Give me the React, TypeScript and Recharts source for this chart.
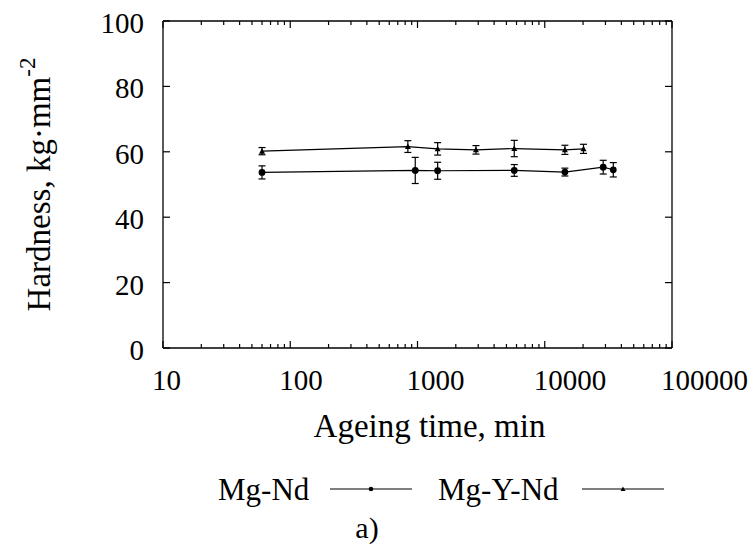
import React from 'react';
import { ComposedChart, Line, XAxis, YAxis, ErrorBar, Legend } from 'recharts';

const ndTime = [60, 960, 1440, 5760, 14400, 28800, 34560];
const ndHardness = [53.7, 54.3, 54.2, 54.3, 53.8, 55.3, 54.5];
const ndError = [2.0, 4.0, 2.6, 1.8, 1.2, 2.1, 2.2];

const yndTime = [60, 840, 1440, 2880, 5760, 14400, 20160];
const yndHardness = [60.2, 61.6, 60.9, 60.6, 61.0, 60.6, 60.9];
const yndError = [1.1, 1.8, 1.9, 1.3, 2.5, 1.4, 1.4];

const xMajorTicks = [10, 100, 1000, 10000, 100000];
const yTicks = [0, 20, 40, 60, 80, 100];
const seriesNames = ['Mg-Nd', 'Mg-Y-Nd'];
const xLabel = 'Ageing time, min';
const yLabel = 'Hardness, kg\u00B7mm';
const yLabelSup = '-2';
const caption = 'a)';

const xAllTicks: number[] = [];
xMajorTicks.forEach((d, i) => {
  if (i === xMajorTicks.length - 1) {
    xAllTicks.push(d);
  } else {
    for (let k = 1; k <= 9; k++) xAllTicks.push(d * k);
  }
});

const ndData = ndTime.map((t, i) => ({ t, h: ndHardness[i], e: ndError[i] }));
const yndData = yndTime.map((t, i) => ({ t, h: yndHardness[i], e: yndError[i] }));

const FONT = "'Liberation Serif', serif";
const INK = '#000';

const CHART_W = 750;
const CHART_H = 547;
const MARGIN = { top: 21, right: 78, bottom: 99, left: 0 };
const Y_AXIS_W = 163;
const X_AXIS_H = 100;
const PLOT_L = MARGIN.left + Y_AXIS_W;
const PLOT_T = MARGIN.top;
const PLOT_W = CHART_W - MARGIN.left - MARGIN.right - Y_AXIS_W;
const PLOT_H = CHART_H - MARGIN.top - MARGIN.bottom - X_AXIS_H;
const X_DOMAIN = [xMajorTicks[0], xMajorTicks[xMajorTicks.length - 1]];
const Y_DOMAIN = [yTicks[0], yTicks[yTicks.length - 1]];

const frameX = (v: number) =>
  PLOT_L + ((Math.log10(v) - Math.log10(X_DOMAIN[0])) / (Math.log10(X_DOMAIN[1]) - Math.log10(X_DOMAIN[0]))) * PLOT_W;
const frameY = (v: number) => PLOT_T + PLOT_H - ((v - Y_DOMAIN[0]) / (Y_DOMAIN[1] - Y_DOMAIN[0])) * PLOT_H;

const BottomTick = (props: any) => {
  const { x, y, payload } = props;
  const major = xMajorTicks.includes(payload.value);
  return (
    <g>
      <line x1={x} x2={x} y1={y} y2={y - (major ? 7 : 4)} stroke={INK} strokeWidth={1.2} />
      {major && (
        <text x={x - 11} y={y + 42} textAnchor="start" fontFamily={FONT} fontSize={29} fill={INK}>
          {payload.value}
        </text>
      )}
    </g>
  );
};

const LeftTick = (props: any) => {
  const { x, y, payload } = props;
  return (
    <g>
      <line x1={x} x2={x + 7} y1={y} y2={y} stroke={INK} strokeWidth={1.2} />
      <text x={x - 19} y={y + 12} textAnchor="end" fontFamily={FONT} fontSize={29} fill={INK}>
        {payload.value}
      </text>
    </g>
  );
};

const YLabelContent = (props: any) => {
  const { viewBox } = props;
  const cx = viewBox.x + 50;
  const cy = viewBox.y + viewBox.height / 2;
  return (
    <text
      x={cx}
      y={cy}
      textAnchor="middle"
      transform={`rotate(-90, ${cx}, ${cy})`}
      fontFamily={FONT}
      fontSize={33}
      fill={INK}
    >
      {yLabel}
      <tspan fontSize={23} dy={-15}>{yLabelSup}</tspan>
    </text>
  );
};

const XLabelContent = (props: any) => {
  const { viewBox } = props;
  return (
    <text
      x={viewBox.x + viewBox.width / 2 + 12}
      y={viewBox.y + 89}
      textAnchor="middle"
      fontFamily={FONT}
      fontSize={33}
      fill={INK}
    >
      {xLabel}
    </text>
  );
};

const Triangle = (props: any) => {
  const { cx, cy } = props;
  if (cx == null || cy == null) return null;
  return <polygon points={`${cx - 3},${cy + 2.5} ${cx + 3},${cy + 2.5} ${cx},${cy - 3}`} fill={INK} />;
};

// Overlay: legend row, caption, and the top/right frame of the plot box
const LegendContent = () => {
  const top = PLOT_T;
  const right = PLOT_L + PLOT_W;
  const bottom = PLOT_T + PLOT_H;
  return (
    <svg width={CHART_W} height={CHART_H} style={{ display: 'block', pointerEvents: 'none' }}>
      <line x1={PLOT_L} x2={right} y1={top} y2={top} stroke={INK} strokeWidth={1.3} />
      <line x1={right} x2={right} y1={top} y2={bottom} stroke={INK} strokeWidth={1.3} />
      {xAllTicks.map((v) => (
        <line
          key={`tt${v}`}
          x1={frameX(v)}
          x2={frameX(v)}
          y1={top}
          y2={top + (xMajorTicks.includes(v) ? 7 : 4)}
          stroke={INK}
          strokeWidth={1.2}
        />
      ))}
      {yTicks.map((v) => (
        <line key={`rt${v}`} x1={right} x2={right - 7} y1={frameY(v)} y2={frameY(v)} stroke={INK} strokeWidth={1.2} />
      ))}
      <g transform="translate(0,460)">
        <text x={218} y={40} fontFamily={FONT} fontSize={31} fill={INK}>{seriesNames[0]}</text>
        <line x1={330} x2={412} y1={29} y2={29} stroke={INK} strokeWidth={1.2} />
        <circle cx={371} cy={29} r={2.3} fill={INK} />
        <text x={438} y={40} fontFamily={FONT} fontSize={31} fill={INK}>{seriesNames[1]}</text>
        <line x1={582} x2={664} y1={29} y2={29} stroke={INK} strokeWidth={1.2} />
        <polygon points="620.5,31 625.5,31 623,26.5" fill={INK} />
        <text x={367} y={78} textAnchor="middle" fontFamily={FONT} fontSize={30} fill={INK}>{caption}</text>
      </g>
    </svg>
  );
};

export default function App() {
  return (
    <div style={{ position: 'absolute', left: 0, top: 0, width: CHART_W, height: CHART_H, background: '#fff' }}>
      <ComposedChart width={CHART_W} height={CHART_H} margin={MARGIN}>
        <XAxis
          xAxisId="b"
          dataKey="t"
          type="number"
          scale="log"
          domain={X_DOMAIN}
          allowDataOverflow
          ticks={xAllTicks}
          interval={0}
          tickSize={0}
          tickMargin={0}
          tick={<BottomTick />}
          axisLine={{ stroke: INK, strokeWidth: 1.3 }}
          tickLine={false}
          height={X_AXIS_H}
          orientation="bottom"
          label={{ content: <XLabelContent /> }}
        />
        <YAxis
          yAxisId="l"
          type="number"
          domain={Y_DOMAIN}
          allowDataOverflow
          ticks={yTicks}
          interval={0}
          tickSize={0}
          tickMargin={0}
          tick={<LeftTick />}
          axisLine={{ stroke: INK, strokeWidth: 1.3 }}
          tickLine={false}
          width={Y_AXIS_W}
          orientation="left"
          label={{ content: <YLabelContent /> }}
        />
        <Line
          xAxisId="b"
          yAxisId="l"
          data={ndData}
          dataKey="h"
          name={seriesNames[0]}
          stroke={INK}
          strokeWidth={1.2}
          dot={{ r: 3.4, fill: INK, stroke: INK, strokeWidth: 0 }}
          activeDot={false}
          isAnimationActive={false}
        >
          <ErrorBar dataKey="e" direction="y" width={3.5} stroke={INK} strokeWidth={1.2} isAnimationActive={false} />
        </Line>
        <Line
          xAxisId="b"
          yAxisId="l"
          data={yndData}
          dataKey="h"
          name={seriesNames[1]}
          stroke={INK}
          strokeWidth={1.2}
          dot={<Triangle />}
          activeDot={false}
          isAnimationActive={false}
        >
          <ErrorBar dataKey="e" direction="y" width={3.5} stroke={INK} strokeWidth={1.2} isAnimationActive={false} />
        </Line>
        <Legend
          layout="vertical"
          align="center"
          verticalAlign="middle"
          content={<LegendContent />}
          wrapperStyle={{ position: 'absolute', left: 0, top: 0, width: CHART_W, height: CHART_H, pointerEvents: 'none' }}
        />
      </ComposedChart>
    </div>
  );
}
